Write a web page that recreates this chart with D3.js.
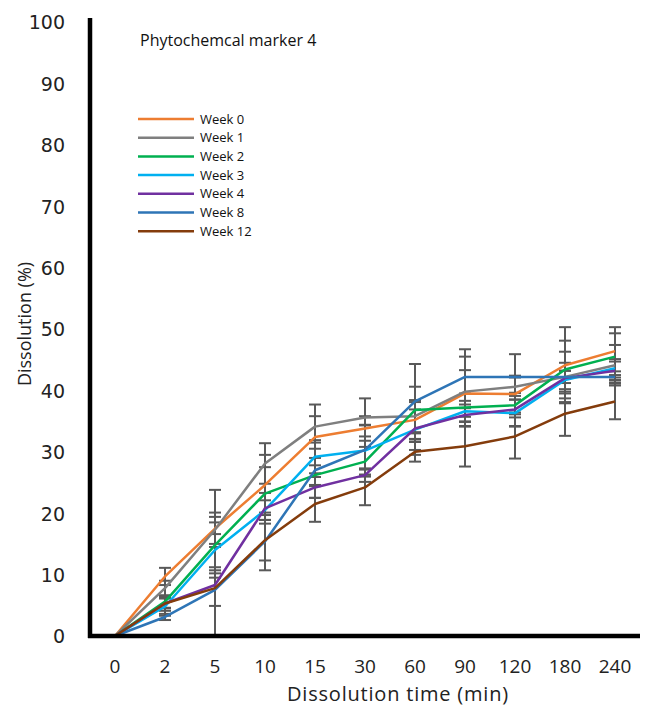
<!DOCTYPE html>
<html>
<head>
<meta charset="utf-8">
<script src="https://cdn.jsdelivr.net/npm/d3@7"></script>
<style>
  body { margin: 0; background: #fff; }
  svg { display: block; }
</style>
</head>
<body>
<svg id="chart" width="645" height="706"></svg>
<script>
// Sampling times (min) on the category axis
const times = ["0", "2", "5", "10", "15", "30", "60", "90", "120", "180", "240"];
const yTicks = [0, 10, 20, 30, 40, 50, 60, 70, 80, 90, 100];

// Mean dissolution (%) per storage week
const week0  = [0, 9.7, 17.5, 24.6, 32.4, 33.8, 35.2, 39.5, 39.4, 44.1, 46.4];
const week1  = [0, 7.8, 17.3, 28.1, 34.1, 35.6, 35.8, 39.8, 40.6, 42.2, 44.1];
const week2  = [0, 5.6, 14.8, 23.2, 26.2, 28.4, 36.8, 37.2, 37.6, 43.4, 45.5];
const week3  = [0, 4.8, 14.0, 20.5, 29.2, 30.2, 33.6, 36.6, 36.3, 41.7, 43.6];
const week4  = [0, 5.3, 8.3, 20.8, 24.2, 26.2, 33.8, 36.0, 36.9, 42.0, 43.2];
const week8  = [0, 3.1, 7.5, 15.4, 27.0, 30.3, 38.2, 42.2, 42.2, 42.2, 42.2];
const week12 = [0, 5.3, 7.8, 15.6, 21.5, 24.2, 30.0, 30.9, 32.5, 36.2, 38.2];

// Standard deviations (%)
const week0Err  = [0, 1.4, 6.3, 4.9, 3.4, 2.0, 3.2, 3.8, 3.0, 6.2, 3.9];
const week1Err  = [0, 1.2, 2.8, 3.3, 3.6, 3.1, 2.6, 5.7, 1.5, 4.1, 3.3];
const week2Err  = [0, 1.0, 4.6, 4.3, 1.6, 2.4, 3.8, 2.3, 2.0, 4.7, 3.8];
const week3Err  = [0, 1.5, 4.5, 1.6, 2.7, 4.2, 3.3, 1.7, 2.2, 1.5, 1.5];
const week4Err  = [0, 0.8, 8.3, 2.5, 1.7, 1.1, 4.3, 1.1, 2.7, 2.5, 1.5];
const week8Err  = [0, 0.5, 7.5, 4.7, 4.5, 4.0, 6.1, 4.5, 3.7, 1.0, 0.9];
const week12Err = [0, 1.2, 2.9, 3.3, 2.9, 2.9, 1.6, 3.3, 3.6, 3.6, 2.9];

const seriesNames  = ["Week 0", "Week 1", "Week 2", "Week 3", "Week 4", "Week 8", "Week 12"];
const seriesColors = ["#ED7D31", "#7F7F7F", "#00B050", "#00B0F0", "#7030A0", "#2E75B6", "#843C0C"];

const series = [
  { name: seriesNames[0], color: seriesColors[0], values: week0,  errors: week0Err },
  { name: seriesNames[1], color: seriesColors[1], values: week1,  errors: week1Err },
  { name: seriesNames[2], color: seriesColors[2], values: week2,  errors: week2Err },
  { name: seriesNames[3], color: seriesColors[3], values: week3,  errors: week3Err },
  { name: seriesNames[4], color: seriesColors[4], values: week4,  errors: week4Err },
  { name: seriesNames[5], color: seriesColors[5], values: week8,  errors: week8Err },
  { name: seriesNames[6], color: seriesColors[6], values: week12, errors: week12Err }
];

const svg = d3.select("#chart");
const textFont = "'Open Sans', Lato, sans-serif";

const plot = { left: 90, right: 640, top: 22, bottom: 636 };

const x = d3.scaleBand().domain(times).range([plot.left, plot.right]).paddingInner(0).paddingOuter(0);
const xc = t => x(t) + x.bandwidth() / 2;
const y = d3.scaleLinear().domain([0, 100]).range([plot.bottom, plot.top]);

// Y tick labels (no tick marks or gridlines)
const yAxis = d3.axisLeft(y).tickValues(yTicks).tickSize(0).tickPadding(0);
const gy = svg.append("g")
  .attr("transform", `translate(65,0)`)
  .call(yAxis);
gy.select(".domain").remove();
gy.selectAll("text")
  .attr("font-family", "DejaVu Sans, Verdana, sans-serif")
  .attr("font-size", 19)
  .attr("fill", "#222")
  .attr("dy", "0.36em");

// X tick labels
const xAxis = d3.axisBottom(x).tickSize(0).tickPadding(0);
const gx = svg.append("g")
  .attr("transform", `translate(0,${plot.bottom})`)
  .call(xAxis);
gx.select(".domain").remove();
gx.selectAll("text")
  .attr("font-family", textFont)
  .attr("font-size", 19)
  .attr("fill", "#222")
  .attr("y", 37)
  .attr("dy", 0);

// Error bars
const capHalf = 6;
const errG = svg.append("g").attr("stroke", "#595959").attr("stroke-width", 2).attr("fill", "none");
series.forEach(s => {
  s.values.forEach((v, i) => {
    const e = s.errors[i];
    if (!e) return;
    const cx = xc(times[i]);
    const hi = y(v + e);
    const lo = y(Math.max(0, v - e));
    errG.append("line").attr("x1", cx).attr("x2", cx).attr("y1", hi).attr("y2", lo);
    errG.append("line").attr("x1", cx - capHalf).attr("x2", cx + capHalf).attr("y1", hi).attr("y2", hi);
    if (v - e > 0) {
      errG.append("line").attr("x1", cx - capHalf).attr("x2", cx + capHalf).attr("y1", lo).attr("y2", lo);
    }
  });
});

// Series lines
const line = d3.line()
  .x((d, i) => xc(times[i]))
  .y(d => y(d));
svg.append("g").selectAll("path")
  .data(series)
  .join("path")
  .attr("d", d => line(d.values))
  .attr("fill", "none")
  .attr("stroke", d => d.color)
  .attr("stroke-width", 2.5)
  .attr("stroke-linejoin", "round");

// Axis lines
svg.append("line")
  .attr("x1", plot.left).attr("x2", plot.left)
  .attr("y1", 18).attr("y2", plot.bottom + 2)
  .attr("stroke", "#000").attr("stroke-width", 4.5);
svg.append("line")
  .attr("x1", plot.left - 2).attr("x2", plot.right)
  .attr("y1", plot.bottom).attr("y2", plot.bottom)
  .attr("stroke", "#000").attr("stroke-width", 4.5);

// Title inside the plot
svg.append("text")
  .attr("x", 140).attr("y", 46)
  .attr("font-family", textFont)
  .attr("font-size", 16)
  .attr("fill", "#111")
  .text("Phytochemcal marker 4");

// Legend
const legend = svg.append("g").attr("transform", "translate(138,119)");
series.forEach((s, i) => {
  const row = legend.append("g").attr("transform", `translate(0,${i * 18.7})`);
  row.append("line").attr("x1", 0).attr("x2", 56).attr("y1", 0).attr("y2", 0)
    .attr("stroke", s.color).attr("stroke-width", 2.5);
  row.append("text").attr("x", 62).attr("y", 0).attr("dy", "0.36em")
    .attr("font-family", textFont)
    .attr("font-size", 13)
    .attr("fill", "#111")
    .text(s.name);
});

// Axis titles
svg.append("text")
  .attr("x", 398).attr("y", 701)
  .attr("text-anchor", "middle")
  .attr("font-family", textFont)
  .attr("font-size", 20)
  .attr("letter-spacing", "0.8px")
  .attr("fill", "#222")
  .text("Dissolution time (min)");

svg.append("text")
  .attr("transform", "translate(31,324) rotate(-90)")
  .attr("text-anchor", "middle")
  .attr("font-family", textFont)
  .attr("font-size", 18)
  .attr("fill", "#222")
  .text("Dissolution (%)");
</script>
</body>
</html>
